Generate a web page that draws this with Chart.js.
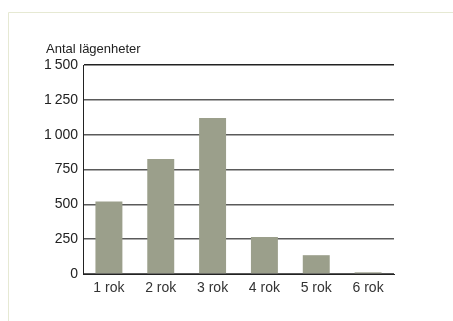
<!DOCTYPE html>
<html>
<head>
<meta charset="utf-8">
<script src="https://cdn.jsdelivr.net/npm/chart.js@4/dist/chart.umd.min.js"></script>
<style>
html,body{margin:0;padding:0;background:#fff;}
canvas{display:block;}
</style>
</head>
<body>
<canvas id="c" width="453" height="321"></canvas>
<script>
const categories = ["1 rok", "2 rok", "3 rok", "4 rok", "5 rok", "6 rok"];
const values = [520, 825, 1120, 265, 135, 12];
const yTicks = [0, 250, 500, 750, 1000, 1250, 1500];
const yTitle = "Antal lägenheter";

const FONT = "'Liberation Sans', Arial, sans-serif";

const decor = {
  id: 'decor',
  beforeDraw(chart) {
    const ctx = chart.ctx;
    ctx.save();
    ctx.strokeStyle = '#e6e9d3';
    ctx.lineWidth = 1;
    ctx.beginPath();
    ctx.moveTo(8.5, 330);
    ctx.lineTo(8.5, 12.5);
    ctx.lineTo(460, 12.5);
    ctx.stroke();
    ctx.restore();
  },
  afterDraw(chart) {
    const ctx = chart.ctx;
    ctx.save();
    ctx.fillStyle = '#222';
    ctx.font = "13px " + FONT;
    ctx.textAlign = 'left';
    ctx.textBaseline = 'alphabetic';
    ctx.fillText(yTitle, 46, 53);
    ctx.restore();
  }
};

function fmt(v) {
  const s = String(v);
  return s.length > 3 ? s.slice(0, s.length - 3) + '\u2009' + s.slice(-3) : s;
}

new Chart(document.getElementById('c'), {
  type: 'bar',
  data: {
    labels: categories,
    datasets: [{
      data: values,
      backgroundColor: '#9b9f8b',
      borderWidth: 0,
      barPercentage: 0.52,
      categoryPercentage: 1
    }]
  },
  options: {
    responsive: false,
    animation: false,
    layout: { padding: { left: 0, right: 59, top: 65, bottom: 0 } },
    plugins: { legend: { display: false }, tooltip: { enabled: false } },
    scales: {
      x: {
        grid: { display: false, drawTicks: false },
        border: { display: true, color: '#222', width: 1 },
        ticks: { color: '#333', font: { family: FONT, size: 14 }, padding: 6, maxRotation: 0 },
        afterFit(s) { s.height = 47; }
      },
      y: {
        min: 0, max: 1500,
        grid: { color: (c) => c.tick && c.tick.value === 1500 ? '#222' : '#5a5a5a', lineWidth: 1.4, drawTicks: false },
        border: { display: true, color: '#222', width: 1 },
        afterBuildTicks(s) { s.ticks = yTicks.map(v => ({ value: v })); },
        ticks: {
          color: '#222', font: { family: FONT, size: 14 }, padding: 5,
          callback: (v) => fmt(v)
        },
        afterFit(s) { s.width = 83; }
      }
    }
  },
  plugins: [decor]
});
</script>
</body>
</html>
